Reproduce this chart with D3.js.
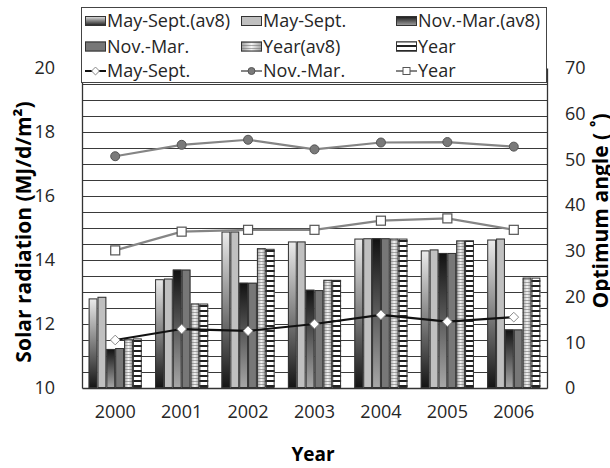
<!DOCTYPE html>
<html>
<head>
<meta charset="utf-8">
<script src="https://cdn.jsdelivr.net/npm/d3@7"></script>
<style>
body{margin:0;background:#fff;}
text{font-family:"Open Sans",Lato,sans-serif;fill:#262626;}
.ttl{font-family:"Open Sans",sans-serif;font-weight:bold;fill:#000;}
</style>
</head>
<body>
<svg width="610" height="468"></svg>
<script>
// data
const years=["2000","2001","2002","2003","2004","2005","2006"];
const radMaySeptAv8=[12.80,13.40,14.89,14.58,14.67,14.30,14.64];
const radMaySept=[12.85,13.42,14.89,14.58,14.68,14.33,14.67];
const radNovMarAv8=[11.22,13.70,13.29,13.07,14.68,14.22,11.83];
const radNovMar=[11.25,13.70,13.29,13.06,14.68,14.22,11.83];
const radYearAv8=[11.52,12.64,14.37,13.38,14.67,14.61,13.45];
const radYear=[11.55,12.64,14.35,13.38,14.67,14.61,13.45];
const angMaySept=[10.5,12.9,12.5,14.0,16.0,14.5,15.5];
const angNovMar=[50.7,53.2,54.3,52.2,53.7,53.8,52.8];
const angYear=[30.1,34.2,34.6,34.6,36.6,37.1,34.6];
const leftTicks=[10,12,14,16,18,20];
const rightTicks=[0,10,20,30,40,50,60,70];

var svg=d3.select("svg");
var defs=svg.append("defs");

// fills
var g1=defs.append("linearGradient").attr("id","gMS").attr("x1",0).attr("y1",0).attr("x2",0).attr("y2",1);
g1.append("stop").attr("offset","0%").attr("stop-color","#ececec");
g1.append("stop").attr("offset","100%").attr("stop-color","#141414");
var g2=defs.append("linearGradient").attr("id","gNM").attr("x1",0).attr("y1",0).attr("x2",0).attr("y2",1);
g2.append("stop").attr("offset","0%").attr("stop-color","#111");
g2.append("stop").attr("offset","100%").attr("stop-color","#a8a8a8");
var g3=defs.append("linearGradient").attr("id","gYA").attr("x1",0).attr("y1",0).attr("x2",1).attr("y2",0);
g3.append("stop").attr("offset","0%").attr("stop-color","#9a9a9a");
g3.append("stop").attr("offset","50%").attr("stop-color","#f4f4f4");
g3.append("stop").attr("offset","100%").attr("stop-color","#9a9a9a");
var p1=defs.append("pattern").attr("id","pFine").attr("patternUnits","userSpaceOnUse").attr("width",4).attr("height",3);
p1.append("rect").attr("width",4).attr("height",1).attr("fill","#777").attr("opacity",0.6);
var p2=defs.append("pattern").attr("id","pYear").attr("patternUnits","userSpaceOnUse").attr("width",4).attr("height",5);
p2.append("rect").attr("width",4).attr("height",5).attr("fill","#fff");
p2.append("rect").attr("width",4).attr("height",2).attr("fill","#222");

const series=[
  {name:"May-Sept.(av8)",vals:radMaySeptAv8,fill:"url(#gMS)"},
  {name:"May-Sept.",vals:radMaySept,fill:"#c0c0c0"},
  {name:"Nov.-Mar.(av8)",vals:radNovMarAv8,fill:"url(#gNM)"},
  {name:"Nov.-Mar.",vals:radNovMar,fill:"#777777"},
  {name:"Year(av8)",vals:radYearAv8,fill:"url(#gYA)",over:"url(#pFine)"},
  {name:"Year",vals:radYear,fill:"url(#pYear)"}
];

var pL=82,pR=547,pT=68,pB=388;
var x0=d3.scaleBand().domain(years).range([pL,pR]);
var x1=d3.scaleBand().domain(series.map(d=>d.name)).range([0,x0.bandwidth()]).paddingOuter(0.75);
var y=d3.scaleLinear().domain([10,20]).range([pB,pT]);
var y2=d3.scaleLinear().domain([0,70]).range([pB,pT]);

// gridlines every 0.5
svg.append("g").selectAll("line")
   .data(d3.range(10.5,20.01,0.5)).enter().append("line")
   .attr("x1",pL).attr("x2",pR)
   .attr("y1",d=>Math.round(y(d))+0.5).attr("y2",d=>Math.round(y(d))+0.5)
   .attr("stroke","#3a3a3a").attr("stroke-width",1);

// bars
var bars=svg.append("g");
series.forEach(function(s){
  var sel=bars.selectAll(null).data(s.vals).enter();
  sel.append("rect")
     .attr("x",(d,i)=>x0(years[i])+x1(s.name))
     .attr("y",d=>y(d))
     .attr("width",x1.bandwidth())
     .attr("height",d=>y(10)-y(d))
     .attr("fill",s.fill);
  if(s.over){
    sel.append("rect")
       .attr("x",(d,i)=>x0(years[i])+x1(s.name))
       .attr("y",d=>y(d))
       .attr("width",x1.bandwidth())
       .attr("height",d=>y(10)-y(d))
       .attr("fill",s.over);
  }
  sel.append("rect")
     .attr("x",(d,i)=>x0(years[i])+x1(s.name)+0.5)
     .attr("y",d=>y(d)+0.5)
     .attr("width",x1.bandwidth()-1)
     .attr("height",d=>y(10)-y(d)-1)
     .attr("fill","none").attr("stroke","#333").attr("stroke-width",1);
});

// axes
var axL=svg.append("g").attr("transform","translate("+pL+",0)")
   .call(d3.axisLeft(y).tickValues(leftTicks).tickSize(0).tickPadding(27));
var axR=svg.append("g").attr("transform","translate("+pR+",0)")
   .call(d3.axisRight(y2).tickValues(rightTicks).tickSize(0).tickPadding(18));
var axB=svg.append("g").attr("transform","translate(0,"+pB+")")
   .call(d3.axisBottom(x0).tickSize(0).tickPadding(17));
[axL,axR,axB].forEach(function(a){
  a.attr("font-family",null).attr("font-size",null);
  a.select(".domain").attr("stroke","#333").attr("stroke-width",1.3);
  a.selectAll("text").style("font-size","18px").attr("fill","#262626");
});

// angle lines
var cx=(d,i)=>x0(years[i])+x0.bandwidth()/2;
var line=d3.line().x(cx).y(d=>y2(d));
svg.append("path").datum(angNovMar).attr("d",line).attr("fill","none").attr("stroke","#858585").attr("stroke-width",2.2);
svg.append("path").datum(angYear).attr("d",line).attr("fill","none").attr("stroke","#858585").attr("stroke-width",2.2);
svg.append("path").datum(angMaySept).attr("d",line).attr("fill","none").attr("stroke","#111").attr("stroke-width",2.2);

svg.append("g").selectAll("circle").data(angNovMar).enter().append("circle")
   .attr("cx",cx).attr("cy",d=>y2(d)).attr("r",4.5)
   .attr("fill","#7a7a7a").attr("stroke","#555").attr("stroke-width",1);
svg.append("g").selectAll("rect").data(angYear).enter().append("rect")
   .attr("x",(d,i)=>cx(d,i)-4.5).attr("y",d=>y2(d)-4.5).attr("width",9).attr("height",9)
   .attr("fill","#fff").attr("stroke","#555").attr("stroke-width",1.2);
var diamond=d3.symbol().type(d3.symbolDiamond2).size(60);
svg.append("g").selectAll("path").data(angMaySept).enter().append("path")
   .attr("d",diamond)
   .attr("transform",(d,i)=>"translate("+cx(d,i)+","+y2(d)+")")
   .attr("fill","#fff").attr("stroke","#888").attr("stroke-width",1);

// axis titles
svg.append("text").attr("class","ttl").attr("transform","translate(31,232) rotate(-90)")
   .attr("text-anchor","middle").style("font-size","21px").text("Solar radiation (MJ/d/m\u00b2)");
svg.append("text").attr("class","ttl").attr("transform","translate(608,211) rotate(-90)")
   .attr("text-anchor","middle").style("font-size","21px").text("Optimum angle ( \u02da)");
svg.append("text").attr("class","ttl").attr("x",313).attr("y",461)
   .attr("text-anchor","middle").style("font-size","19px").text("Year");

// legend
var lg=svg.append("g");
lg.append("rect").attr("x",81.5).attr("y",7.5).attr("width",465).attr("height",75)
  .attr("fill","#fff").attr("stroke","#444").attr("stroke-width",1);
var colX=[85,241,396], rowY=[21,46.5,71];
series.forEach(function(s,i){
  var gx=colX[i%3], gy=rowY[Math.floor(i/3)];
  lg.append("rect").attr("x",gx).attr("y",gy-5).attr("width",21).attr("height",10).attr("fill",s.fill);
  if(s.over) lg.append("rect").attr("x",gx).attr("y",gy-5).attr("width",21).attr("height",10).attr("fill",s.over);
  lg.append("rect").attr("x",gx+0.5).attr("y",gy-4.5).attr("width",20).attr("height",9).attr("fill","none").attr("stroke","#333");
  lg.append("text").attr("x",gx+22).attr("y",gy).attr("dy","0.36em").style("font-size","18px").text(s.name);
});
const lineNames=["May-Sept.","Nov.-Mar.","Year"];
lineNames.forEach(function(n,i){
  var gx=colX[i], gy=rowY[2];
  lg.append("line").attr("x1",gx).attr("x2",gx+21).attr("y1",gy).attr("y2",gy)
    .attr("stroke",i==0?"#111":"#858585").attr("stroke-width",2);
  if(i==0) lg.append("path").attr("d",d3.symbol().type(d3.symbolDiamond2).size(40)).attr("transform","translate("+(gx+10.5)+","+gy+")").attr("fill","#fff").attr("stroke","#888");
  if(i==1) lg.append("circle").attr("cx",gx+10.5).attr("cy",gy).attr("r",3.5).attr("fill","#7a7a7a").attr("stroke","#555");
  if(i==2) lg.append("rect").attr("x",gx+7).attr("y",gy-3.5).attr("width",7).attr("height",7).attr("fill","#fff").attr("stroke","#555");
  lg.append("text").attr("x",gx+22).attr("y",gy).attr("dy","0.36em").style("font-size","18px").text(n);
});
</script>
</body>
</html>
